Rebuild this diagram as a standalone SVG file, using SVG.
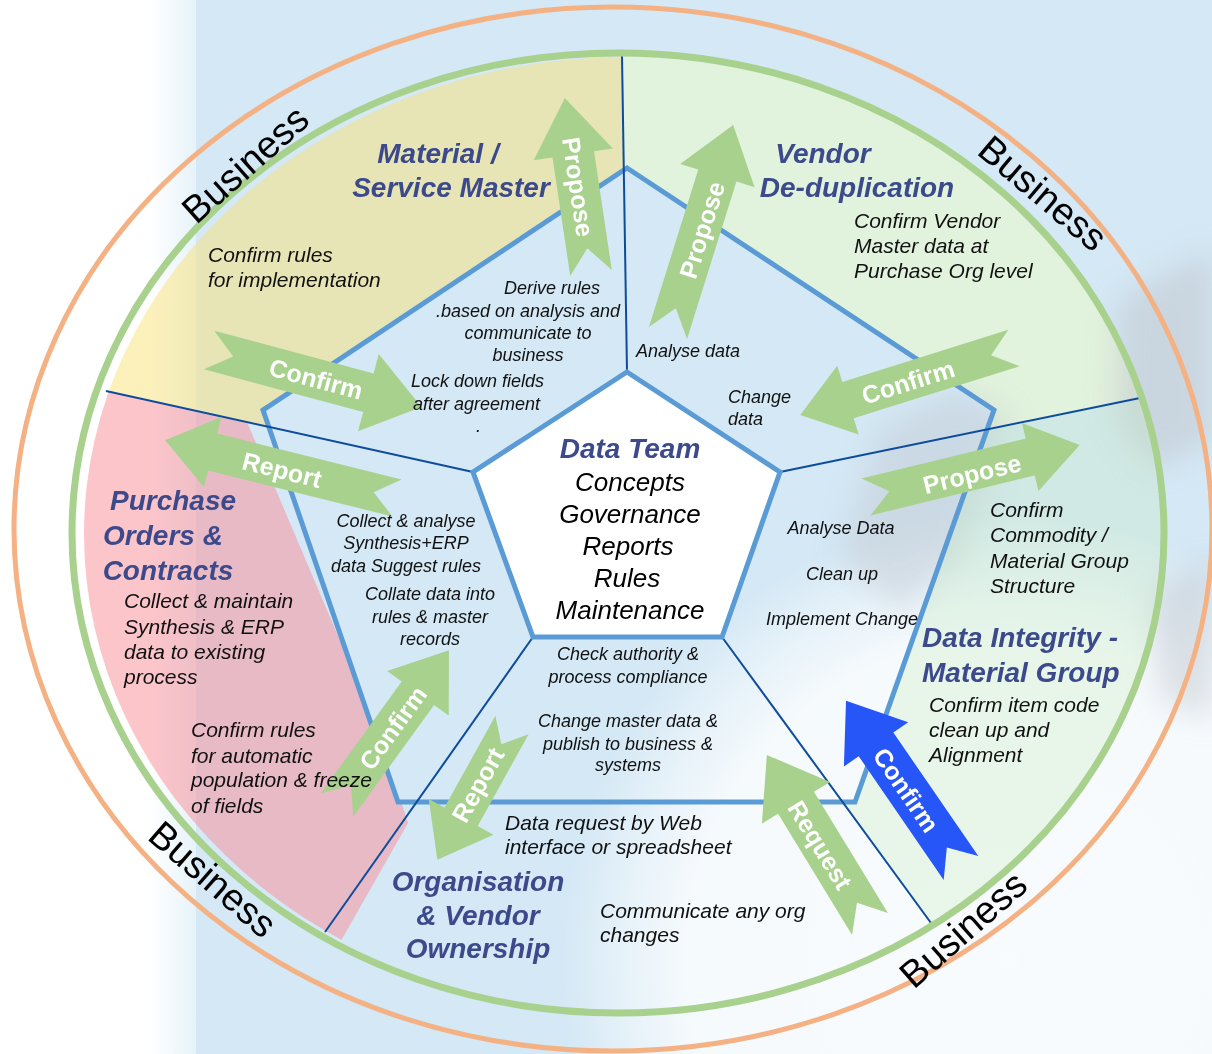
<svg xmlns="http://www.w3.org/2000/svg" width="1212" height="1054" viewBox="0 0 1212 1054">
<defs>
<style>
.title{font-family:"Liberation Sans",Arial,sans-serif;font-weight:bold;font-style:italic;font-size:28px;fill:#3c4a8c}
.body{font-family:"Liberation Sans",Arial,sans-serif;font-style:italic;font-size:21px;fill:#111}
.inner{font-family:"Liberation Sans",Arial,sans-serif;font-style:italic;font-size:18px;fill:#111}
.team{font-family:"Liberation Sans",Arial,sans-serif;font-style:italic;font-size:26px;fill:#000}
.biz{font-family:"Liberation Sans",Arial,sans-serif;font-size:38px;fill:#000}
.lbl{font-family:"Liberation Sans",Arial,sans-serif;font-weight:bold;font-size:25px;fill:#fff}
.arrow{fill:#a9d18e}
.radial{stroke:#0d4c9c;stroke-width:2;fill:none}
.mid{text-anchor:middle}
</style>
<linearGradient id="strip" x1="0" y1="0" x2="1" y2="0">
<stop offset="0" stop-color="#ffffff"/>
<stop offset="1" stop-color="#e6f3f9"/>
</linearGradient>
<radialGradient id="light" gradientUnits="userSpaceOnUse" cx="1010" cy="960" r="450">
<stop offset="0" stop-color="#ffffff" stop-opacity="0.85"/>
<stop offset="0.72" stop-color="#ffffff" stop-opacity="0.78"/>
<stop offset="0.87" stop-color="#ffffff" stop-opacity="0.4"/>
<stop offset="1" stop-color="#ffffff" stop-opacity="0"/>
</radialGradient>
<clipPath id="clipGreen"><ellipse cx="618" cy="533" rx="546" ry="480"/></clipPath>
<clipPath id="clipInner"><ellipse cx="626" cy="534" rx="542" ry="477"/></clipPath>
<filter id="blur" x="-50%" y="-50%" width="200%" height="200%"><feGaussianBlur stdDeviation="14"/></filter>
</defs>

<g id="background">
<rect x="0" y="0" width="1212" height="1054" fill="#d4e8f5"/>
<rect x="0" y="0" width="150" height="1054" fill="#ffffff"/>
<rect x="150" y="0" width="46" height="1054" fill="url(#strip)"/>
</g>

<g id="sectors">
<polygon clip-path="url(#clipInner)" points="30,375 473,472 627,372 622,0 30,0" fill="#fae178" fill-opacity="0.5"/>
<polygon clip-path="url(#clipInner)" points="30,375 247,422 375,723 408,823 330,960 30,960" fill="#fa8c96" fill-opacity="0.5"/>
<polygon clip-path="url(#clipGreen)" points="622,0 627,372 780,472 1250,375 1250,0" fill="#ebfac8" fill-opacity="0.55"/>
<polygon points="627,168 994,410 855,802 398,802 263,410" fill="#d4e8f5"/>
</g>

<g id="overlay">
<rect x="0" y="0" width="1212" height="1054" fill="url(#light)"/>
<g filter="url(#blur)" fill="#bfc4ca">
<polygon points="1120,300 1212,250 1212,440 1150,470 1115,420" opacity="0.5"/>
<polygon points="1150,590 1212,560 1212,720 1160,700" opacity="0.45"/>
<polygon points="840,560 880,430 960,390 1010,420 960,560 900,610" opacity="0.4"/>
</g>
<polygon clip-path="url(#clipGreen)" points="988,429 1250,375 1250,1100 1060,1100 843,802 855,802" fill="#c8ebbe" fill-opacity="0.3"/>
</g>

<g id="structure">
<polygon points="627,168 994,410 855,802 398,802 263,410" fill="none" stroke="#5b9bd5" stroke-width="5" stroke-linejoin="miter"/>
<line class="radial" x1="622" y1="56" x2="627" y2="372"/>
<line class="radial" x1="780" y1="472" x2="1140" y2="398"/>
<line class="radial" x1="722" y1="637" x2="931" y2="923"/>
<line class="radial" x1="533" y1="637" x2="325" y2="932"/>
<line class="radial" x1="473" y1="472" x2="106" y2="391"/>
<ellipse cx="618" cy="533" rx="546" ry="480" fill="none" stroke="#a9d18e" stroke-width="7"/>
<ellipse cx="613" cy="529" rx="599" ry="522" fill="none" stroke="#f4b183" stroke-width="5"/>
</g>

<g id="node-data-team">
<polygon points="627,372 780,472 722,637 533,637 473,472" fill="#ffffff" stroke="#5b9bd5" stroke-width="5"/>
<text class="title mid" x="630" y="458">Data Team</text>
<text class="team mid" x="630" y="491">Concepts</text>
<text class="team mid" x="630" y="523">Governance</text>
<text class="team mid" x="628" y="555">Reports</text>
<text class="team mid" x="627" y="587">Rules</text>
<text class="team mid" x="630" y="619">Maintenance</text>
</g>

<g id="business-labels">
<text class="biz mid" transform="translate(245,164) rotate(-41.7)" dy="0.35em">Business</text>
<text class="biz mid" transform="translate(1043,193) rotate(40.3)" dy="0.35em">Business</text>
<text class="biz mid" transform="translate(213,879) rotate(41)" dy="0.35em">Business</text>
<text class="biz mid" transform="translate(963,929) rotate(-41.3)" dy="0.35em">Business</text>
</g>

<g id="connectors">
<g id="arrow-propose-material">
<path class="arrow" d="M0,-21H120V-40L177,0L120,40V21H0L25,0Z" transform="translate(591,273) rotate(-98.5)"/>
<text class="lbl mid" transform="translate(578,187) rotate(81.5)" dy="0.35em">Propose</text>
</g>
<g id="arrow-propose-vendor">
<path class="arrow" d="M0,-20H165V-39L218,0L165,39V20H0L26,0Z" transform="translate(668,333) rotate(-72.6)"/>
<text class="lbl mid" transform="translate(702,230) rotate(-72.6)" dy="0.35em">Propose</text>
</g>
<g id="arrow-confirm-material">
<path class="arrow" d="M0,-20H165V-40L220,0L165,40V20H0L25,0Z" transform="translate(209,350) rotate(15)"/>
<text class="lbl mid" transform="translate(316,379) rotate(15)" dy="0.35em">Confirm</text>
</g>
<g id="arrow-confirm-vendor">
<path class="arrow" d="M0,-19H174V-36L224,0L174,36V19H0L24,0Z" transform="translate(1014,348) rotate(162.6)"/>
<text class="lbl mid" transform="translate(908,382) rotate(-17.4)" dy="0.35em">Confirm</text>
</g>
<g id="arrow-report-purchase">
<path class="arrow" d="M0,-19H190V-36L239,0L190,36V19H0L24,0Z" transform="translate(397,498) rotate(194)"/>
<text class="lbl mid" transform="translate(282,470) rotate(14)" dy="0.35em">Report</text>
</g>
<g id="arrow-confirm-purchase">
<path class="arrow" d="M0,-20H138V-38L191,0L138,38V20H0L24,0Z" transform="translate(337,805) rotate(-54.1)"/>
<text class="lbl mid" transform="translate(393,728) rotate(-54.1)" dy="0.35em">Confirm</text>
</g>
<g id="arrow-report-org">
<path class="arrow" d="M0,-19H105V-37L154,0L105,37V19H0L22,0Z" transform="translate(512,725) rotate(119)"/>
<text class="lbl mid" transform="translate(478,785) rotate(-61)" dy="0.35em">Report</text>
</g>
<g id="arrow-request-org">
<path class="arrow" d="M0,-21H142V-40L198,0L142,40V21H0L25,0Z" transform="translate(870,924) rotate(-121.4)"/>
<text class="lbl mid" transform="translate(820,845) rotate(58.6)" dy="0.35em">Request</text>
</g>
<g id="arrow-confirm-integrity">
<path d="M0,-21H150V-39L203,0L150,39V21H0L25,0Z" fill="#2656f8" transform="translate(961,868) rotate(-124.5)"/>
<text class="lbl mid" transform="translate(906,790) rotate(55.5)" dy="0.35em">Confirm</text>
</g>
<g id="arrow-propose-integrity">
<path class="arrow" d="M0,-19H169V-35L220,0L169,35V19H0L24,0Z" transform="translate(866,497) rotate(-13.7)"/>
<text class="lbl mid" transform="translate(972,474) rotate(-13.7)" dy="0.35em">Propose</text>
</g>
</g>

<g id="node-material">
<text class="title mid" x="438" y="163">Material /</text>
<text class="title mid" x="451" y="197">Service Master</text>
<text class="body" x="208" y="262">Confirm rules</text>
<text class="body" x="208" y="287">for implementation</text>
<text class="inner mid" x="552" y="294">Derive rules</text>
<text class="inner mid" x="528" y="317">.based on analysis and</text>
<text class="inner mid" x="528" y="339">communicate to</text>
<text class="inner mid" x="528" y="361">business</text>
<text class="inner" x="411" y="387">Lock down fields</text>
<text class="inner" x="413" y="410">after agreement</text>
<text class="inner" x="476" y="432">.</text>
</g>

<g id="node-vendor">
<text class="title mid" x="823" y="163">Vendor</text>
<text class="title mid" x="857" y="197">De-duplication</text>
<text class="body" x="854" y="228">Confirm Vendor</text>
<text class="body" x="854" y="253">Master data at</text>
<text class="body" x="854" y="278">Purchase Org level</text>
<text class="inner" x="636" y="357">Analyse data</text>
<text class="inner" x="728" y="403">Change</text>
<text class="inner" x="728" y="425">data</text>
</g>

<g id="node-purchase">
<text class="title mid" x="173" y="510">Purchase</text>
<text class="title mid" x="163" y="545">Orders &amp;</text>
<text class="title mid" x="168" y="580">Contracts</text>
<text class="body" x="124" y="608">Collect &amp; maintain</text>
<text class="body" x="124" y="634">Synthesis &amp; ERP</text>
<text class="body" x="124" y="659">data to existing</text>
<text class="body" x="124" y="684">process</text>
<text class="body" x="191" y="737">Confirm rules</text>
<text class="body" x="191" y="763">for automatic</text>
<text class="body" x="191" y="787">population &amp; freeze</text>
<text class="body" x="191" y="813">of fields</text>
<text class="inner mid" x="406" y="527">Collect &amp; analyse</text>
<text class="inner mid" x="406" y="549">Synthesis+ERP</text>
<text class="inner mid" x="406" y="572">data Suggest rules</text>
<text class="inner mid" x="430" y="600">Collate data into</text>
<text class="inner mid" x="430" y="623">rules &amp; master</text>
<text class="inner mid" x="430" y="645">records</text>
</g>

<g id="node-integrity">
<text class="title" x="922" y="647">Data Integrity -</text>
<text class="title" x="922" y="682">Material Group</text>
<text class="body" x="990" y="517">Confirm</text>
<text class="body" x="990" y="542">Commodity /</text>
<text class="body" x="990" y="568">Material Group</text>
<text class="body" x="990" y="593">Structure</text>
<text class="body" x="929" y="712">Confirm item code</text>
<text class="body" x="929" y="737">clean up and</text>
<text class="body" x="929" y="762">Alignment</text>
<text class="inner mid" x="841" y="534">Analyse Data</text>
<text class="inner mid" x="842" y="580">Clean up</text>
<text class="inner mid" x="842" y="625">Implement Change</text>
</g>

<g id="node-organisation">
<text class="title mid" x="478" y="891">Organisation</text>
<text class="title mid" x="478" y="925">&amp; Vendor</text>
<text class="title mid" x="478" y="958">Ownership</text>
<text class="inner mid" x="628" y="660">Check authority &amp;</text>
<text class="inner mid" x="628" y="683">process compliance</text>
<text class="inner mid" x="628" y="727">Change master data &amp;</text>
<text class="inner mid" x="628" y="750">publish to business &amp;</text>
<text class="inner mid" x="628" y="771">systems</text>
<text class="body" x="505" y="830">Data request by Web</text>
<text class="body" x="505" y="854">interface or spreadsheet</text>
<text class="body" x="600" y="918">Communicate any org</text>
<text class="body" x="600" y="942">changes</text>
</g>
</svg>
